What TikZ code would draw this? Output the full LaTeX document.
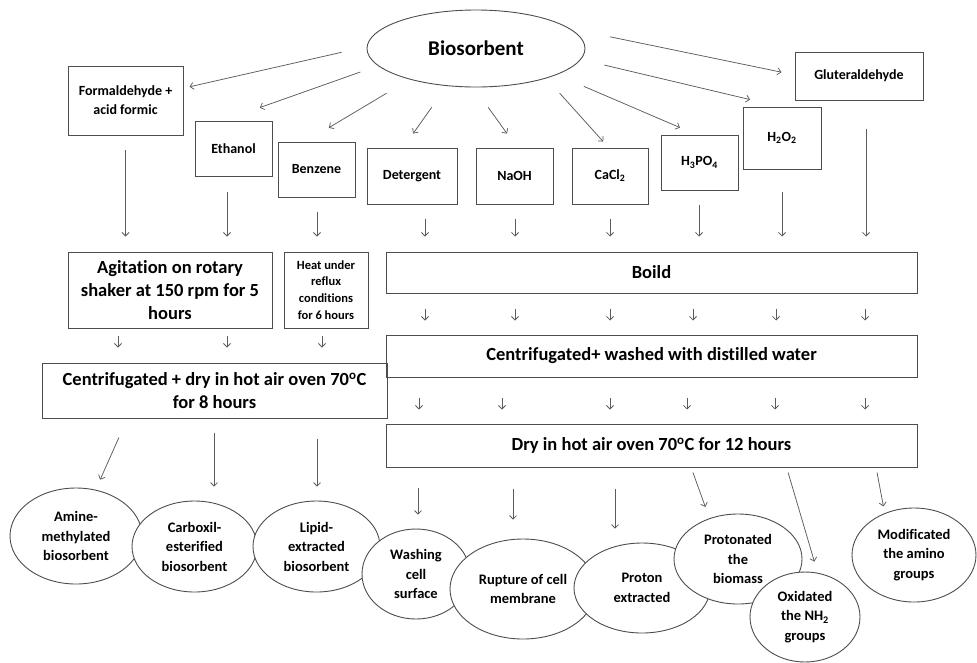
\documentclass[tikz,border=0pt]{standalone}
\usepackage{fontspec}
\setmainfont[Ligatures={NoCommon}]{Carlito}
\usepackage{tikz}
\usetikzlibrary{shapes.geometric}
\usetikzlibrary{arrows.meta}
\definecolor{boxgray}{HTML}{4D4D4D}
\definecolor{linegray}{HTML}{5C5C5C}
\tikzset{%
  every box/.style={
    rectangle,
    draw=boxgray,
    line width=1pt,
    inner sep=0pt,
    align=center,
    font=\bfseries\fontsize{14}{19}\selectfont
  },
  box big/.style={
    font=\bfseries\fontsize{18.5}{23}\selectfont
  },
  box tiny/.style={
    font=\bfseries\fontsize{12.5}{16.7}\selectfont
  },
  every blob/.style={
    ellipse,
    draw=boxgray,
    line width=0.9pt,
    fill=white,
    inner sep=0pt,
    align=center,
    font=\bfseries\fontsize{14.5}{19.5}\selectfont
  },
  conn/.style={
    ->,
    draw=linegray,
    line width=0.75pt
  },
}

\begin{document}
\begin{tikzpicture}[x=1pt, y=-1pt, >={Straight Barb[length=3.5pt,width=7pt]}]

\useasboundingbox (0,0) rectangle (977,662);

\node [every blob/.try, minimum width=218, minimum height=77,
  font=\bfseries\fontsize{21}{25}\selectfont] (bio) at (476,48.5) {Biosorbent};

% reagents
\foreach \n/\x/\y/\w/\h/\t in {
    form/125.5/100.5/115/69/{Formaldehyde +\\acid formic},
    eth/233.5/148.5/77/55/{Ethanol},
    benz/316.5/169.5/77/55/{Benzene},
    det/412/176/90/56/{Detergent},
    naoh/514.5/176/77/56/{NaOH},
    cacl/610/176/76/56/{CaCl\textsubscript{2}},
    hpo/699.5/162.5/77/55/{H\textsubscript{3}PO\textsubscript{4}},
    hoo/782/138/78/62/{H\textsubscript{2}O\textsubscript{2}},
    glut/859/76/128/48/{Gluteraldehyde}}
  \node [every box/.try, minimum width=\w, minimum height=\h] (\n) at (\x,\y) {\t};

% treatments
\node [every box/.try, box big/.try, minimum width=204, minimum height=76] (agit) at (170,290)
  {Agitation on rotary\\shaker at 150 rpm for 5\\hours};
\node [every box/.try, box tiny/.try, minimum width=84, minimum height=76] (heat) at (326,290)
  {Heat under\\reflux\\conditions\\for 6 hours};
\node [every box/.try, box big/.try, minimum width=531, minimum height=41] (boild) at (651.5,272.5) {Boild};
\node [every box/.try, box big/.try, minimum width=345, minimum height=55] (cdry) at (214.5,390.5)
  {Centrifugated + dry in hot air oven 70\textsuperscript{o}C\\for 8 hours};
\node [every box/.try, box big/.try, minimum width=531, minimum height=42] (cwash) at (651.5,356)
  {Centrifugated+ washed with distilled water};
\node [every box/.try, box big/.try, minimum width=531, minimum height=43] (dry) at (651.5,445.5)
  {Dry in hot air oven 70\textsuperscript{o}C for 12 hours};

% products
\foreach \n/\x/\y/\w/\h/\t in {
    amine/76/536/132/96/{Amine-\\methylated\\biosorbent},
    carb/194.5/546.5/125/91/{Carboxil-\\esterified\\biosorbent},
    lipid/316.5/546.5/127/91/{Lipid-\\extracted\\biosorbent},
    wash/416/574/108/90/{Washing\\cell\\surface},
    rupt/523/589/146/100/{Rupture of cell\\membrane},
    proton/642/588/136/90/{Proton\\extracted},
    protn/738/559/128/90/{Protonated\\the\\biomass},
    oxid/805/617/110/90/{Oxidated\\the NH\textsubscript{2}\\groups},
    modif/914/555/124/94/{Modificated\\the amino\\groups}}
  \node [every blob/.try, minimum width=\w, minimum height=\h] (\n) at (\x,\y) {\t};

\foreach \n/\a/\s/\b/\e in {form/179/25.8/12/6.2, eth/190/18.6/110/38.7,
    benz/205/26.8/111/26.9, det/232/26/107/17.1, naoh/267/24.5/85/17.1,
    cacl/337/20/93/8, hpo/342/29.4/97/17.5, hoo/354/24/95/30, glut/12/41/179/13.3}
  \draw [conn, shorten <=\s pt, shorten >=\e pt] (bio.\a) -- (\n.\b);

\foreach \n/\dx/\s/\t in {form/0/14/agit, eth/-6.5/15/agit, benz/0.5/14/heat,
    det/13/14/boild, naoh/0.5/14/boild, cacl/0/14/boild, hpo/-0.5/14/boild,
    hoo/0/22/boild, glut/7/28/boild}
  \draw [conn, shorten <=\s pt, shorten >=15pt]
    ([xshift=\dx pt]\n.south) -- ([xshift=\dx pt]\n.south |- \t.north);

\foreach \n/\dx/\s/\e/\t in {agit/-52/7/15/cdry, agit/57/7/15/cdry, heat/-4/7/15/cdry,
    boild/-226.5/15/14/cwash, boild/-136.5/15/14/cwash, boild/-41.5/15/14/cwash,
    boild/41.5/15/14/cwash, boild/124.5/15/14/cwash, boild/213.5/15/14/cwash,
    cwash/-232.5/20/14/dry, cwash/-149.5/20/14/dry, cwash/-41.5/20/14/dry,
    cwash/35.5/20/14/dry, cwash/123.5/20/14/dry, cwash/213.5/20/14/dry}
  \draw [conn, shorten <=\s pt, shorten >=\e pt]
    ([xshift=\dx pt]\n.south) -- ([xshift=\dx pt]\n.south |- \t.north);

\foreach \n/\t/\dx/\s/\e in {cdry/carb/19.5/14/14, cdry/lipid/0.5/20/14,
    dry/wash/2/20/14, dry/rupt/-10/21/19, dry/proton/-27/21/14}
  \draw [conn, shorten <=\s pt, shorten >=\e pt]
    ([xshift=\dx pt]\t.north |- \n.south) -- ([xshift=\dx pt]\t.north);

\draw [conn, shorten <=20.8pt, shorten >=11pt] ([xshift=-87.1pt]cdry.south) -- (amine.67);
\draw [conn, shorten <=5.3pt, shorten >=12pt] ([xshift=39.6pt]dry.south) -- (protn.125);
\draw [conn, shorten <=5.2pt, shorten >=11.6pt] ([xshift=135.1pt]dry.south) -- (oxid.74);
\draw [conn, shorten <=5.1pt, shorten >=6.8pt] ([xshift=224.6pt]dry.south) -- (modif.125);

\end{tikzpicture}
\end{document}
